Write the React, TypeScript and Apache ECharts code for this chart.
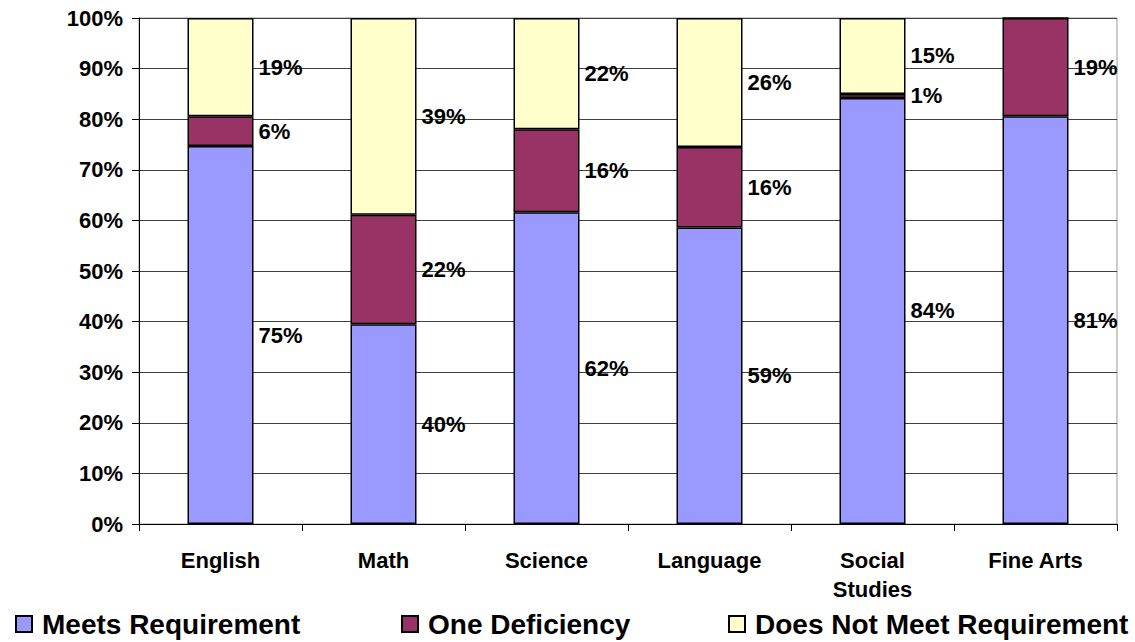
import React, { useEffect, useRef } from "react";
import * as echarts from "echarts";

const categories = ["English", "Math", "Science", "Language", "Social\nStudies", "Fine Arts"];
const meetsRequirement = [74.7, 39.5, 61.6, 58.6, 84.2, 80.6];
const oneDeficiency = [5.9, 21.6, 16.4, 15.9, 0.8, 19.4];
const doesNotMeet = [19.4, 38.9, 22.0, 25.5, 15.0, 0];
const yTicks = { min: 0, max: 100, interval: 10 };

const FONT = "'Liberation Sans', Arial, Helvetica, sans-serif";

export default function App() {
  const ref = useRef<HTMLDivElement>(null);

  useEffect(() => {
    if (!ref.current) return;
    const chart = echarts.init(ref.current, undefined, { renderer: "svg" });

    const labelCfg = {
      show: true,
      position: "right",
      distance: 5,
      color: "#000",
      fontFamily: FONT,
      fontWeight: "bold",
      fontSize: 22,
      formatter: (p: any) => (p.value > 0 ? Math.round(p.value) + "%" : ""),
    };

    const mkSeries = (name: string, data: number[], color: string) => ({
      name,
      type: "bar",
      stack: "total",
      barWidth: 66,
      data,
      itemStyle: { color, borderColor: "#000", borderWidth: 1.5 },
      label: labelCfg,
      emphasis: { disabled: true },
    });

    const legendBase = {
      top: 605,
      itemWidth: 16,
      itemHeight: 16,
      icon: "rect",
      selectedMode: false,
      textStyle: {
        fontFamily: FONT,
        fontWeight: "bold",
        fontSize: 28,
        color: "#000",
        padding: [0, 0, 0, 5],
      },
    };

    chart.setOption({
      animation: false,
      backgroundColor: "#fff",
      grid: {
        left: 139,
        right: 18,
        top: 18,
        bottom: 118,
        show: true,
        borderColor: "#999",
        borderWidth: 1,
      },
      legend: [
        { ...legendBase, left: 10, data: ["Meets Requirement"] },
        { ...legendBase, left: 396, data: ["One Deficiency"] },
        { ...legendBase, left: 723, data: ["Does Not Meet Requirement"] },
      ],
      xAxis: {
        type: "category",
        data: categories,
        axisLine: { lineStyle: { color: "#000", width: 1 } },
        axisTick: { show: true, length: 7, lineStyle: { color: "#000" } },
        axisLabel: {
          interval: 0,
          margin: 22,
          color: "#000",
          fontFamily: FONT,
          fontWeight: "bold",
          fontSize: 22,
          lineHeight: 29,
        },
        splitLine: { show: false },
      },
      yAxis: {
        type: "value",
        min: yTicks.min,
        max: yTicks.max,
        interval: yTicks.interval,
        axisLine: { show: true, lineStyle: { color: "#000", width: 1 } },
        axisTick: { show: true, length: 7, lineStyle: { color: "#000" } },
        axisLabel: {
          margin: 16,
          color: "#000",
          fontFamily: FONT,
          fontWeight: "bold",
          fontSize: 22,
          formatter: "{value}%",
        },
        splitLine: { show: true, lineStyle: { color: "#404040", width: 1 } },
      },
      series: [
        mkSeries("Meets Requirement", meetsRequirement, "#9999FF"),
        mkSeries("One Deficiency", oneDeficiency, "#993366"),
        mkSeries("Does Not Meet Requirement", doesNotMeet, "#FFFFCC"),
      ],
    });

    return () => chart.dispose();
  }, []);

  return (
    <div
      ref={ref}
      style={{ position: "fixed", left: 0, top: 0, width: 1135, height: 642, background: "#fff" }}
    />
  );
}
